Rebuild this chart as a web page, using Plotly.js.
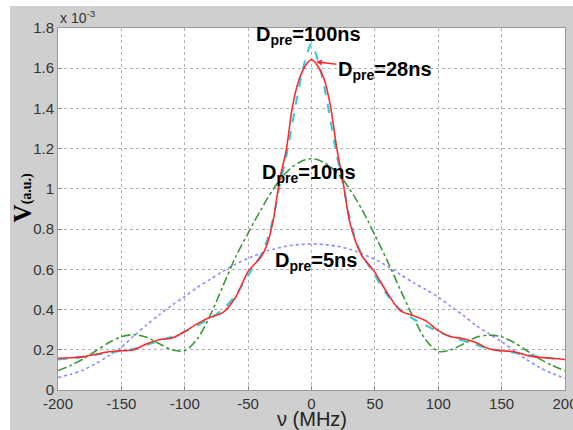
<!DOCTYPE html>
<html><head><meta charset="utf-8">
<script src="https://cdn.plot.ly/plotly-3.0.1.min.js"></script>
<style>html,body{margin:0;padding:0;background:#fff}#c{width:573px;height:430px}</style>
</head><body><div id="c"></div>
<script>
// frequency (MHz)
const freq = [-200,-190,-180,-170,-160,-150,-140,-130,-120,-110,-100,-90,-80,-70,-60,-50,-45,-40,-35,-30,-25,-20,-15,-10,-5,0,5,10,15,20,25,30,35,40,45,50,60,70,80,90,100,110,120,130,140,150,160,170,180,190,200];
// V (a.u.) in units of 1e-3
const v5ns   = [0.062,0.078,0.100,0.132,0.170,0.212,0.270,0.325,0.375,0.422,0.465,0.510,0.550,0.590,0.625,0.655,0.668,0.680,0.692,0.700,0.708,0.715,0.720,0.723,0.725,0.726,0.725,0.723,0.720,0.715,0.708,0.700,0.690,0.678,0.664,0.650,0.615,0.575,0.535,0.500,0.462,0.415,0.370,0.320,0.280,0.240,0.195,0.150,0.112,0.082,0.058];
const v10ns  = [0.097,0.122,0.155,0.195,0.235,0.265,0.275,0.262,0.230,0.200,0.195,0.255,0.370,0.515,0.660,0.780,0.840,0.895,0.950,1.000,1.045,1.080,1.110,1.130,1.145,1.150,1.145,1.130,1.110,1.080,1.045,1.000,0.950,0.895,0.835,0.770,0.640,0.500,0.365,0.250,0.192,0.200,0.230,0.262,0.273,0.265,0.235,0.195,0.155,0.122,0.096];
const v100ns = [0.152,0.157,0.165,0.175,0.185,0.195,0.205,0.225,0.245,0.265,0.290,0.322,0.355,0.400,0.470,0.570,0.620,0.670,0.745,0.860,1.020,1.160,1.330,1.500,1.640,1.722,1.640,1.510,1.340,1.165,1.020,0.860,0.745,0.670,0.620,0.570,0.470,0.400,0.355,0.322,0.290,0.265,0.245,0.225,0.205,0.195,0.185,0.175,0.165,0.157,0.150];
const v28ns  = [0.158,0.160,0.166,0.178,0.190,0.195,0.200,0.230,0.250,0.258,0.290,0.330,0.362,0.385,0.460,0.590,0.625,0.660,0.725,0.850,1.050,1.190,1.410,1.540,1.610,1.643,1.610,1.545,1.410,1.200,1.030,0.840,0.735,0.665,0.625,0.585,0.480,0.395,0.370,0.345,0.295,0.265,0.255,0.235,0.205,0.195,0.190,0.172,0.162,0.158,0.152];
const xTicks = [-200,-150,-100,-50,0,50,100,150,200];
const xTickText = ['-200','-150','-100','-50','0','50','100','150','200'];
const yTicks = [0,0.2,0.4,0.6,0.8,1,1.2,1.4,1.6,1.8];
const yTickText = ['0','0.2','0.4','0.6','0.8','1','1.2','1.4','1.6','1.8'];

const traces = [
 {x:freq,y:v5ns,mode:'lines',line:{color:'#8a8aff',width:1.6,dash:'dot',shape:'spline',smoothing:0.8}},
 {x:freq,y:v10ns,mode:'lines',line:{color:'#3a9a3a',width:1.6,dash:'dashdot',shape:'spline',smoothing:0.8}},
 {x:freq,y:v100ns,mode:'lines',line:{color:'#30c8d8',width:2,dash:'dash',shape:'spline',smoothing:0.8}},
 {x:freq,y:v28ns,mode:'lines',line:{color:'#ff2a2a',width:1.6,shape:'spline',smoothing:0.8}}
];
const lf = {family:'Liberation Sans, Arial, sans-serif',size:20,color:'#000',weight:'bold'};
const layout = {
 width:573,height:430,
 margin:{l:58,r:8,t:28,b:40},
 paper_bgcolor:'#cfcfcf',plot_bgcolor:'#ffffff',
 showlegend:false,
 font:{family:'Liberation Sans, Arial, sans-serif',size:15,color:'#333'},
 xaxis:{range:[-200,200],tickvals:xTicks,ticktext:xTickText,ticks:'inside',ticklen:4,tickcolor:'#888',ticklabeloverflow:'allow',
   showgrid:true,gridcolor:'#b0b0b0',griddash:'dot',gridwidth:1,zeroline:false,
   showline:true,mirror:true,linecolor:'#999',linewidth:1,tickfont:{size:15,color:'#333'}},
 yaxis:{range:[0,1.8],tickvals:yTicks,ticktext:yTickText,ticks:'inside',ticklen:4,tickcolor:'#888',
   showgrid:true,gridcolor:'#b0b0b0',griddash:'dot',gridwidth:1,zeroline:false,
   showline:true,mirror:true,linecolor:'#999',linewidth:1,tickfont:{size:15,color:'#333'}},
 shapes:[
  {type:'rect',xref:'paper',yref:'paper',x0:-0.2,x1:1.2,y0:1.061,y1:1.2,fillcolor:'#fff',line:{width:0},layer:'below'},
  {type:'rect',xref:'paper',yref:'paper',x0:-0.2,x1:-0.0947,y0:-0.2,y1:1.2,fillcolor:'#fff',line:{width:0},layer:'below'}
 ],
 annotations:[
  {xref:'x',yref:'y',x:-45.4,y:1.765,xanchor:'left',yanchor:'middle',showarrow:false,text:'D<sub>pre</sub>=100ns',font:lf},
  {xref:'x',yref:'y',x:3.5,y:1.632,axref:'x',ayref:'y',ax:58,ay:1.591,showarrow:true,arrowhead:2,arrowsize:0.8,arrowwidth:1.5,arrowcolor:'#ff2a2a',text:'D<sub>pre</sub>=28ns',font:lf},
  {xref:'x',yref:'y',x:-40.6,y:1.079,xanchor:'left',yanchor:'middle',showarrow:false,text:'D<sub>pre</sub>=10ns',font:lf},
  {xref:'x',yref:'y',x:-30.4,y:0.641,xanchor:'left',yanchor:'middle',showarrow:false,text:'D<sub>pre</sub>=5ns',font:lf},
  {xref:'paper',yref:'paper',x:0,y:1.0,xanchor:'left',yanchor:'bottom',showarrow:false,text:'x 10<sup>-3</sup>',font:{size:14,color:'#333'}},
  {xref:'paper',yref:'paper',x:-0.071,y:0.532,xanchor:'center',yanchor:'middle',textangle:-90,showarrow:false,
   text:'V<span style="font-size:14px">(a.u.)</span>',
   font:{family:'Liberation Serif, Times New Roman, serif',size:25,color:'#000',weight:'bold'}},
  {xref:'paper',yref:'paper',x:0.5,y:-0.081,xanchor:'center',yanchor:'middle',showarrow:false,text:'ν (MHz)',font:{size:20,color:'#222'}}
 ]
};
Plotly.newPlot('c',traces,layout,{staticPlot:true,displayModeBar:false});
</script></body></html>
